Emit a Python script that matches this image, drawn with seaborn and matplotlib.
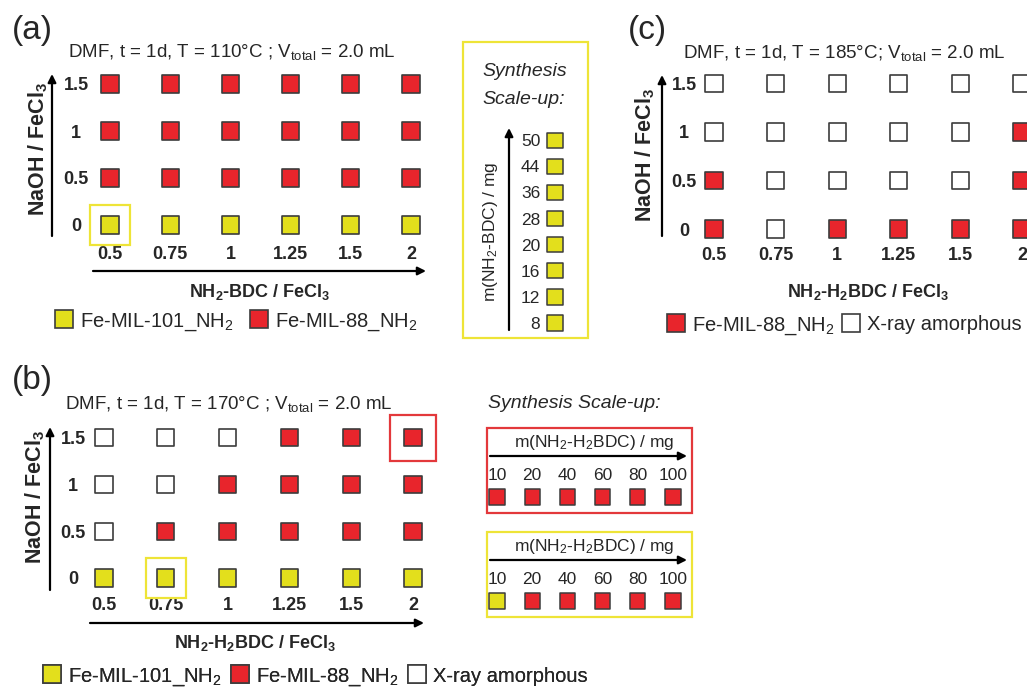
import matplotlib.pyplot as plt
import seaborn as sns
import pandas as pd
from matplotlib.patches import Rectangle
from matplotlib.lines import Line2D

W, H = 1027, 687

# axis categories shared by the three screening grids
ratio_ticks = ['0.5', '0.75', '1', '1.25', '1.5', '2']
naoh_ticks = ['0', '0.5', '1', '1.5']

# phase per cell, rows from NaOH/FeCl3 = 0 upwards, columns follow ratio_ticks
# Y = Fe-MIL-101_NH2, R = Fe-MIL-88_NH2, A = X-ray amorphous
phase_a = [
    ['Y', 'Y', 'Y', 'Y', 'Y', 'Y'],
    ['R', 'R', 'R', 'R', 'R', 'R'],
    ['R', 'R', 'R', 'R', 'R', 'R'],
    ['R', 'R', 'R', 'R', 'R', 'R'],
]
phase_b = [
    ['Y', 'Y', 'Y', 'Y', 'Y', 'Y'],
    ['A', 'R', 'R', 'R', 'R', 'R'],
    ['A', 'A', 'R', 'R', 'R', 'R'],
    ['A', 'A', 'A', 'R', 'R', 'R'],
]
phase_c = [
    ['R', 'A', 'R', 'R', 'R', 'R'],
    ['R', 'A', 'A', 'A', 'A', 'R'],
    ['A', 'A', 'A', 'A', 'A', 'R'],
    ['A', 'A', 'A', 'A', 'A', 'A'],
]

# scale-up series
scale_a_mass = ['8', '12', '16', '20', '28', '36', '44', '50']
scale_a_phase = ['Y', 'Y', 'Y', 'Y', 'Y', 'Y', 'Y', 'Y']
scale_b_mass = ['10', '20', '40', '60', '80', '100']
scale_b_red_phase = ['R', 'R', 'R', 'R', 'R', 'R']
scale_b_yel_phase = ['Y', 'R', 'R', 'R', 'R', 'R']

PHASE = {'Y': 'Fe-MIL-101_NH2', 'R': 'Fe-MIL-88_NH2', 'A': 'X-ray amorphous'}
YELLOW = '#E3DF1C'
RED = '#E8252C'
PALETTE = {'Fe-MIL-101_NH2': YELLOW, 'Fe-MIL-88_NH2': RED, 'X-ray amorphous': 'white'}
EDGE = '#3c3c3c'
BOX_YELLOW = '#EEE437'
BOX_RED = '#E3383B'

sns.set_theme(style='white')
plt.rcParams['font.family'] = ['Liberation Sans', 'DejaVu Sans']
plt.rcParams['mathtext.fontset'] = 'custom'
plt.rcParams['mathtext.rm'] = 'Liberation Sans'
plt.rcParams['mathtext.it'] = 'Liberation Sans:italic'
plt.rcParams['mathtext.bf'] = 'Liberation Sans:bold'

fig = plt.figure(figsize=(W / 100, H / 100), dpi=100)
fig.patch.set_facecolor('white')

# overlay in pixel coordinates for annotations, arrows and boxes
ov = fig.add_axes([0, 0, 1, 1])
ov.set_xlim(0, W)
ov.set_ylim(H, 0)
ov.axis('off')


def px_axes(left, top, right, bottom):
    return fig.add_axes([left / W, 1 - bottom / H, (right - left) / W, (bottom - top) / H])


def arrow(x0, y0, x1, y1):
    ov.annotate('', xy=(x1, y1), xytext=(x0, y0),
                arrowprops=dict(arrowstyle='-|>', lw=1.6, color='black',
                                mutation_scale=12, shrinkA=0, shrinkB=0))


def clean(ax):
    for s in ax.spines.values():
        s.set_visible(False)
    ax.patch.set_alpha(0)
    ax.set_xlabel('')
    ax.set_ylabel('')
    ax.tick_params(length=0)


def draw_grid(ax, phases, x0c, dx, y0c, dy, box, ylab_center):
    rows = []
    for yi, row in enumerate(phases):
        for xi, p in enumerate(row):
            rows.append({'xi': xi, 'yi': yi, 'phase': PHASE[p]})
    df = pd.DataFrame(rows)
    sns.scatterplot(data=df, x='xi', y='yi', hue='phase', palette=PALETTE,
                    marker='s', s=150, edgecolor=EDGE, linewidth=1.2,
                    legend=False, ax=ax)
    left, top, right, bottom = box
    ax.set_xlim((left - x0c) / dx, (right - x0c) / dx)
    ax.set_ylim((y0c - bottom) / dy, (y0c - top) / dy)
    ax.set_xticks(range(len(ratio_ticks)), ratio_ticks, fontweight='bold', fontsize=13)
    ax.set_yticks(range(len(naoh_ticks)), naoh_ticks, fontweight='bold', fontsize=13)
    clean(ax)
    ax.tick_params(axis='x', pad=0)
    # y tick labels are centred on a column left of the grid
    ax.tick_params(axis='y', pad=(left - ylab_center) * 0.72)
    for lab in ax.get_yticklabels():
        lab.set_horizontalalignment('center')


def highlight(ax, xi, yi, w, h, dx, dy, color):
    ax.add_patch(Rectangle((xi - w / 2 / dx, yi - h / 2 / dy), w / dx, h / dy,
                           fill=False, ec=color, lw=1.6, clip_on=False))


def legend(keys, x, y, textpad, colspace):
    handles = [Line2D([], [], marker='s', ls='', ms=12.5, mfc=PALETTE[PHASE[k]],
                      mec=EDGE, mew=1.2) for k in keys]
    labels = [PHASE[k].replace('NH2', 'NH$_2$') for k in keys]
    leg = ov.legend(handles, labels, ncol=len(keys), loc='center left',
                    bbox_to_anchor=(x, y), bbox_transform=ov.transData,
                    frameon=False, fontsize=14.5, borderpad=0, borderaxespad=0,
                    handlelength=1.0, handletextpad=textpad, columnspacing=colspace)
    ov.add_artist(leg)


ylab = r'NaOH / FeCl$_\mathbf{3}$'

# ---- panel (a)
ax_a = px_axes(92, 62, 430, 246)
draw_grid(ax_a, phase_a, 110, 60.2, 225, 47, (92, 62, 430, 246), 76)
highlight(ax_a, ratio_ticks.index('0.5'), naoh_ticks.index('0'), 40, 40, 60.2, 47, BOX_YELLOW)
ov.text(12, 30, '(a)', fontsize=24, va='center')
ov.text(68, 52, r'DMF, t = 1d, T = 110°C ; V$_{\mathrm{total}}$ = 2.0 mL', fontsize=13.5, va='center')
ov.text(38, 149, ylab, fontsize=15.5, fontweight='bold', rotation=90, ha='center', va='center')
ov.text(260, 292, r'NH$_\mathbf{2}$-BDC / FeCl$_\mathbf{3}$', fontsize=13, fontweight='bold',
        ha='center', va='center')
arrow(52, 236, 52, 74)
arrow(93, 271, 426, 271)
legend(['Y', 'R'], 54, 322, 0.3, 0.75)

# scale-up column of (a)
ov.add_patch(Rectangle((463, 42), 125, 296, fill=False, ec=BOX_YELLOW, lw=1.6))
ov.text(525, 72, 'Synthesis', fontsize=14, style='italic', ha='center', va='center')
ov.text(524, 99, 'Scale-up:', fontsize=14, style='italic', ha='center', va='center')
ov.text(490, 232, r'm(NH$_2$-BDC) / mg', fontsize=12.5, rotation=90, ha='center', va='center')
arrow(509, 330, 509, 128)
ax_s = px_axes(543, 128, 572, 338)
df_s = pd.DataFrame({'xi': [0] * len(scale_a_mass), 'yi': range(len(scale_a_mass)),
                     'phase': [PHASE[p] for p in scale_a_phase]})
sns.scatterplot(data=df_s, x='xi', y='yi', hue='phase', palette=PALETTE, marker='s',
                s=120, edgecolor=EDGE, linewidth=1.1, legend=False, ax=ax_s)
ax_s.set_xlim((543 - 555) / 1.0, (572 - 555) / 1.0)
ax_s.set_ylim((323 - 338) / 26.1, (323 - 128) / 26.1)
ax_s.set_xticks([])
ax_s.set_yticks(range(len(scale_a_mass)), scale_a_mass, fontsize=12.5)
clean(ax_s)
ax_s.tick_params(axis='y', pad=2)

# ---- panel (c)
ax_c = px_axes(700, 62, 1045, 247)
draw_grid(ax_c, phase_c, 714, 61.6, 229, 48.5, (700, 62, 1045, 247), 684)
ov.text(628, 30, '(c)', fontsize=24, va='center')
ov.text(683, 53, r'DMF, t = 1d, T = 185°C; V$_{\mathrm{total}}$ = 2.0 mL', fontsize=13.5, va='center')
ov.text(645, 155, ylab, fontsize=15.5, fontweight='bold', rotation=90, ha='center', va='center')
ov.text(868, 292, r'NH$_\mathbf{2}$-H$_\mathbf{2}$BDC / FeCl$_\mathbf{3}$', fontsize=13,
        fontweight='bold', ha='center', va='center')
arrow(662, 236, 662, 75)
arrow(700, 271, 1045, 271)
legend(['R', 'A'], 666, 326, 0.3, 0.3)

# ---- panel (b)
ax_b = px_axes(90, 416, 430, 597)
draw_grid(ax_b, phase_b, 104, 61.8, 578, 46.7, (90, 416, 430, 597), 73)
highlight(ax_b, ratio_ticks.index('0.75'), naoh_ticks.index('0'), 40, 40, 61.8, 46.7, BOX_YELLOW)
highlight(ax_b, ratio_ticks.index('2'), naoh_ticks.index('1.5'), 46, 46, 61.8, 46.7, BOX_RED)
ov.text(12, 381, '(b)', fontsize=24, va='center')
ov.text(65, 404, r'DMF, t = 1d, T = 170°C ; V$_{\mathrm{total}}$ = 2.0 mL', fontsize=13.5, va='center')
ov.text(35, 497, ylab, fontsize=15.5, fontweight='bold', rotation=90, ha='center', va='center')
ov.text(255, 643, r'NH$_\mathbf{2}$-H$_\mathbf{2}$BDC / FeCl$_\mathbf{3}$', fontsize=13,
        fontweight='bold', ha='center', va='center')
arrow(50, 590, 50, 427)
arrow(90, 623, 424, 623)
legend(['Y', 'R', 'A'], 42, 677, 0.3, 0.4)

# scale-up rows of (b)
ov.text(488, 403, 'Synthesis Scale-up:', fontsize=14, style='italic', va='center')
for top, phases, color in [(428, scale_b_red_phase, BOX_RED), (532, scale_b_yel_phase, BOX_YELLOW)]:
    ov.add_patch(Rectangle((487, top), 205, 85, fill=False, ec=color, lw=1.6))
    ov.text(594, top + 14, r'm(NH$_2$-H$_2$BDC) / mg', fontsize=12.5, ha='center', va='center')
    arrow(490, top + 28, 687, top + 28)
    ax_r = px_axes(480, top + 56, 690, top + 82)
    df_r = pd.DataFrame({'xi': range(len(scale_b_mass)), 'yi': [0] * len(scale_b_mass),
                         'phase': [PHASE[p] for p in phases]})
    sns.scatterplot(data=df_r, x='xi', y='yi', hue='phase', palette=PALETTE, marker='s',
                    s=120, edgecolor=EDGE, linewidth=1.1, legend=False, ax=ax_r)
    ax_r.set_xlim((480 - 497) / 35.2, (690 - 497) / 35.2)
    ax_r.set_ylim(-13, 13)
    ax_r.xaxis.tick_top()
    ax_r.set_xticks(range(len(scale_b_mass)), scale_b_mass, fontsize=12.5)
    ax_r.set_yticks([])
    clean(ax_r)
    ax_r.tick_params(axis='x', pad=1)

fig.savefig('out.png', dpi=100)
